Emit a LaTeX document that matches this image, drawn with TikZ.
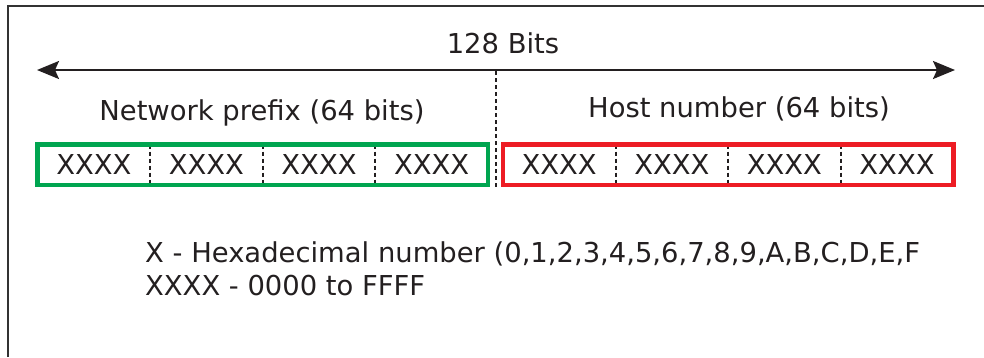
\documentclass[tikz,border=0pt]{standalone}
\usepackage{fontspec}
\setmainfont{DejaVu Sans}
\usepackage{xcolor}
\usepackage{tikz}
\usetikzlibrary{arrows.meta,positioning}
\definecolor{inkgray}{RGB}{35,31,32}
\definecolor{framegray}{RGB}{50,50,50}
\definecolor{netgreen}{RGB}{0,165,80}
\definecolor{hostred}{RGB}{237,28,36}
\tikzset{
  label/.style={font=\fontsize{27.4}{33}\selectfont,text=inkgray,inner sep=0pt,anchor=base},
  cell/.style={minimum width=112.6pt,minimum height=40.5pt,inner sep=0pt,outer sep=0pt,
    font=\fontsize{27.4}{33}\selectfont,text=inkgray},
  netbox/.style={draw=netgreen,line width=4.5pt},
  hostbox/.style={draw=hostred,line width=4.5pt},
  divider/.style={draw=inkgray,line width=2pt,dash pattern=on 4pt off 3pt},
  span/.style={{Stealth[length=22pt,width=18pt,inset=4pt]}-{Stealth[length=22pt,width=18pt,inset=4pt]},
    line width=2.2pt,draw=inkgray},
  frame/.style={draw=framegray,line width=2.6pt}
}
\begin{document}
\begin{tikzpicture}[x=1pt,y=-1pt]
\useasboundingbox (0,0) rectangle (984,357);
\draw[frame] (8,357) -- (8,6) -- (984,6);
% total width arrow
\coordinate (left) at (37,70);
\coordinate (right) at (955,70);
\coordinate (mid) at (495.5,71);
\coordinate (midlow) at (495.5,189);
\draw[span] (left) -- (right);
\node[label] (total) at (503,53) {128 Bits};
\draw[divider] (mid) -- (midlow);
% network prefix
\node[cell] (n1) at (93.8,164.75) {XXXX};
\node[cell, right=0pt of n1] (n2) {XXXX};
\node[cell, right=0pt of n2] (n3) {XXXX};
\node[cell, right=0pt of n3] (n4) {XXXX};
% host number
\node[cell, right=15pt of n4] (h1) {XXXX};
\node[cell, right=0pt of h1] (h2) {XXXX};
\node[cell, right=0pt of h2] (h3) {XXXX};
\node[cell, right=0pt of h3] (h4) {XXXX};
\draw[divider] (n1.north east) -- (n1.south east);
\draw[divider] (n2.north east) -- (n2.south east);
\draw[divider] (n3.north east) -- (n3.south east);
\draw[divider] (h1.north east) -- (h1.south east);
\draw[divider] (h2.north east) -- (h2.south east);
\draw[divider] (h3.north east) -- (h3.south east);
\draw[netbox] (n1.north west) rectangle (n4.south east);
\draw[hostbox] (h1.north west) rectangle (h4.south east);
\node[label] (netlabel) at (262,120) {Network prefix (64 bits)};
\node[label] (hostlabel) at (739,117) {Host number (64 bits)};
% legend
\node[label, anchor=base west, align=left] (legend) at (145,295)
  {X - Hexadecimal number (0,1,2,3,4,5,6,7,8,9,A,B,C,D,E,F\\XXXX - 0000 to FFFF};
\end{tikzpicture}
\end{document}
